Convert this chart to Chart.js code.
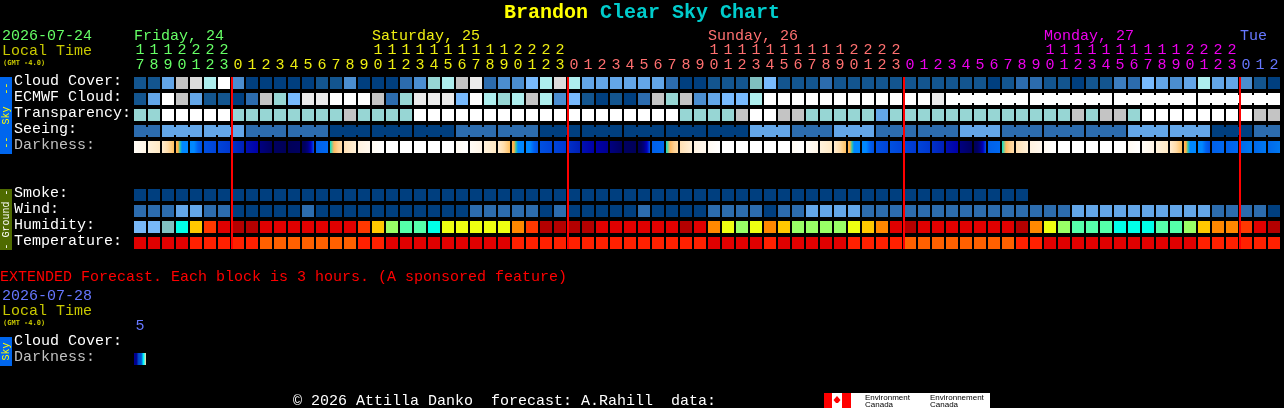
<!DOCTYPE html>
<html><head><meta charset="utf-8">
<script src="https://cdn.jsdelivr.net/npm/chart.js@4/dist/chart.umd.min.js"></script>
<style>html,body{margin:0;padding:0;background:#000;overflow:hidden}canvas{display:block}</style>
</head><body><canvas id="c" width="1284" height="408"></canvas>
<script>
const hourTens = ["1","1","1","2","2","2","2","","","","","","","","","","","1","1","1","1","1","1","1","1","1","1","2","2","2","2","","","","","","","","","","","1","1","1","1","1","1","1","1","1","1","2","2","2","2","","","","","","","","","","","1","1","1","1","1","1","1","1","1","1","2","2","2","2","","",""];
const hourUnits = ["7","8","9","0","1","2","3","0","1","2","3","4","5","6","7","8","9","0","1","2","3","4","5","6","7","8","9","0","1","2","3","0","1","2","3","4","5","6","7","8","9","0","1","2","3","4","5","6","7","8","9","0","1","2","3","0","1","2","3","4","5","6","7","8","9","0","1","2","3","4","5","6","7","8","9","0","1","2","3","0","1","2"];
const dayStartColumns = [7,31,55,79];
const hourColors = ["#66ff66","#eeee11","#ff7070","#ee00ee","#6677ff"];
const rowLabels = ["Cloud Cover:","ECMWF Cloud:","Transparency:","Seeing:","Darkness:","Smoke:","Wind:","Humidity:","Temperature:","Cloud Cover:","Darkness:"];
const rowPositions = [0,1,2,3,4,7,8,9,10,16.25,17.25];
const rowLabelColors = ["#fff","#fff","#fff","#fff","#c0c0c0","#fff","#fff","#fff","#fff","#fff","#c0c0c0"];

const skyPalette = ["#003f7f","#13558f","#2c6cae","#4b8ed0","#63a6e8","#78bafd","#97d6d4","#aeeeee","#c4c4c4","#dcdcdc","#ebebeb","#ffffff","#7fbfbf","#3c7dbf"];
const cloudCover = [1,1,4,8,9,7,11,3,0,0,0,0,0,1,1,3,0,0,0,2,3,6,7,8,10,2,3,3,5,7,9,7,4,4,4,4,4,4,2,0,0,1,1,1,12,5,1,1,1,2,1,1,1,1,1,1,1,1,1,1,1,0,1,2,2,1,1,0,1,1,13,2,5,4,3,4,7,4,4,3,1,0];
const ecmwfCloud = [1,4,11,8,4,1,1,0,2,8,6,5,10,10,11,11,11,8,2,6,10,10,10,5,11,7,6,7,8,7,3,5,1,0,1,0,2,8,6,8,3,4,5,5,7,11,11,11,11,11,11,11,11,11,11,11,11,10,11,11,11,11,11,11,11,11,11,11,11,11,11,11,11,11,11,11,11,11,11,11,11,11];
const transparency = [6,6,11,11,11,11,11,6,6,6,6,6,6,6,6,8,6,6,6,6,11,11,11,11,11,11,11,11,11,11,11,11,11,11,11,11,11,11,11,6,6,6,6,8,11,11,8,8,6,6,6,6,6,4,6,6,6,6,6,6,6,6,6,6,6,6,6,8,6,8,8,6,11,11,11,11,11,11,11,11,8,8];
const seeing = [2,2,4,4,4,4,4,4,2,2,2,2,2,2,0,0,0,0,0,0,0,0,0,2,2,2,2,2,2,0,0,0,0,0,0,0,0,0,0,0,0,0,0,0,4,4,4,2,2,2,4,4,4,2,2,2,2,2,2,4,4,4,2,2,2,2,2,2,2,2,2,4,4,4,4,4,4,0,0,0,2,2];
const seeingBlockStarts = [2,5,8,11,14,17,20,23,26,29,32,35,38,41,44,47,50,53,56,59,62,65,68,71,74,77,80];
const ecmwfBlockStarts = [64,70,76];
const ecmwfBlockFirstColumn = 58;
const smoke = [0,0,0,0,0,0,0,0,0,0,0,0,0,0,0,0,0,0,0,0,0,0,0,0,0,0,0,0,0,0,0,0,0,0,0,0,0,0,0,0,0,0,0,0,0,0,0,0,0,0,0,0,0,0,0,0,0,0,0,0,0,0,0,0];
const wind = [2,2,2,4,4,2,2,0,0,0,0,0,2,0,0,0,0,0,0,0,0,0,0,0,2,2,2,2,2,0,2,0,0,0,0,0,2,0,0,0,0,2,2,2,2,0,2,2,4,4,4,4,2,2,2,2,2,2,2,2,2,2,2,2,2,2,2,4,4,4,4,4,4,4,4,4,4,2,2,2,2,0];

const humidityPalette = ["#78b8f8","#80c0c0","#00ffe8","#55ffaa","#99ff66","#eeff11","#ffc800","#ff8800","#ff3800","#e00000","#b40000"];
const humidity = [0,0,1,2,6,8,9,10,10,9,9,9,9,9,9,9,8,6,4,3,3,2,5,5,5,5,5,7,8,10,10,10,10,9,9,9,9,9,9,10,9,7,5,4,5,7,6,4,4,4,4,5,6,7,9,10,9,9,9,9,9,9,9,10,7,5,4,3,3,3,2,2,2,3,3,4,6,7,7,8,9,10];
const temperaturePalette = ["#e00000","#ff2000","#ff6000"];
const temperature = [0,0,0,0,1,1,1,1,1,2,2,2,2,2,2,2,1,1,0,0,0,0,0,0,0,0,0,1,1,1,1,1,1,1,1,1,1,1,1,1,1,0,0,0,0,1,0,0,0,0,0,1,1,1,1,2,2,2,2,2,2,2,2,1,1,0,0,0,0,0,0,0,0,0,0,0,1,1,1,1,1,1];

const W=["#ffffff"],E1=["#fffcf6","#fff5e6"],E2=["#fff2dc","#ffe9c4"],E3=["#ffecd0","#ffdca8","#ffc060"],
 S=["#ffb85c","#ffb040","#30c8a8","#0088ff","#0088ff","#0088ff","#0088ff"],B1=["#0088ff","#0088ff","#0060f0","#0050e0"],
 B2=["#0050e0","#0044d8"],B3=["#0044d8","#0038d0"],B4=["#0030c8","#0020b8"],B5=["#0010b0","#0000a8"],B5b=["#0000a8","#000090"],
 K1=["#000080","#000060"],K2=["#000060","#000058"],K3=["#000058","#000060"],K4=["#000058","#000060","#000080","#0000c0","#0050e8"],
 B6=["#0060e8","#0068f0"],B7=["#0068ea","#0078f0"],D=["#00e0c8","#ffb860","#ffd090","#ffdca8"],M1=["#ffe0b4","#fff0d8"],M2=["#fff2e0","#fff8ee"],M3=["#fffaf2","#ffffff"];
const darkness = [E1,E2,E3,S,B1,B2,B3,B4,B5,K1,K2,K3,K4,B6,D,M1,M2,M3,W,W,W,W,W,M3,
 E1,E2,E3,S,B1,B2,B3,B4,B5,B5b,K1,K2,K4,B6,D,M1,M2,M3,W,W,W,W,W,M3,
 E1,E2,E3,S,B1,B2,B2,B3,B3,B4,B5,K1,K4,B6,D,M1,M2,M3,W,W,W,W,W,M3,
 E1,E2,E3,S,B1,B6,B6,B7,B7,B7];
const extendedDarkness = [["#000090","#000090","#0050d0","#0050d0","#00ffff","#ffd9a0"]];

const CELL=12, PITCH=14, ROW=16;
const half=(CELL/ROW)/2;
const columns=hourUnits.map((_,i)=>i);
const rowData=(n,row)=>Array.from({length:n},(_,i)=>({x:i,y:[row-half,row+half]}));
const barBase={type:'bar',grouped:false,borderWidth:0,inflateAmount:0,barThickness:CELL,clip:false};
const levelRow=(name,list,palette,row)=>({...barBase,label:name,data:rowData(list.length,row),backgroundColor:list.map(v=>palette[v])});
const gradientRow=(name,stops,row)=>({...barBase,label:name,data:rowData(stops.length,row),
  backgroundColor(c){
    const st=stops[c.dataIndex]; if(!st) return '#000';
    if(st.length===1) return st[0];
    const s=c.chart.scales.x; if(!s) return st[0];
    const px=s.getPixelForValue(c.dataIndex);
    if(!Number.isFinite(px)) return st[0];
    const g=c.chart.ctx.createLinearGradient(px-CELL/2,0,px+CELL/2,0);
    st.forEach((col,i)=>g.addColorStop(i/(st.length-1),col));
    return g;
  }});
const neckRow=(name,list,palette,row,isStart,first=0)=>{
  const data=[],colors=[];
  for(let i=first;i<list.length-1;i++){ if(!isStart(i+1)){ data.push({x:i+0.5,y:[row-0.25,row+0.25]}); colors.push(palette[list[i]]);} }
  return {...barBase,label:name,data,backgroundColor:colors,barThickness:4};
};
const boundaryOffset=(CELL/2)/PITCH; // column left edge relative to its centre

const textPlugin={id:'decor',
  beforeDraw(ch){const c=ch.ctx;c.save();c.fillStyle='#000';c.fillRect(0,0,ch.width,ch.height);
    const bar=(y0,y1,col)=>{c.fillStyle=col;c.fillRect(0,y0,12,y1-y0);};
    bar(77,154,'#0066ee');bar(189,250,'#4f6b00');bar(337,366,'#0066ee');c.restore();},
  afterDraw(ch){const c=ch.ctx;c.save();c.textBaseline='alphabetic';
    const t=(s,x,y,col,f='15px "Liberation Mono"')=>{c.font=f;c.fillStyle=col;c.fillText(s,x,y);};
    const bold='bold 20px "Liberation Mono"';
    t('Brandon',504,18,'#ffff00',bold);
    t('Clear Sky Chart',600,18,'#00cccc',bold);
    t('2026-07-24',2,40,'#66ff66');
    t('Local Time',2,55,'#c8c800');
    t('(GMT -4.0)',3,65,'#c8c800','bold 7px "DejaVu Sans Mono"');
    t('Friday, 24',134,40,hourColors[0]);
    t('Saturday, 25',372,40,hourColors[1]);
    t('Sunday, 26',708,40,hourColors[2]);
    t('Monday, 27',1044,40,hourColors[3]);
    t('Tue',1240,40,hourColors[4]);
    t('EXTENDED Forecast. Each block is 3 hours. (A sponsored feature)',0,281,'#ff0000');
    t('2026-07-28',2,300,hourColors[4]);
    t('Local Time',2,315,'#c8c800');
    t('(GMT -4.0)',3,325,'#c8c800','bold 7px "DejaVu Sans Mono"');
    t('5',135.5,330,hourColors[4]);
    t('\u00a9 2026 Attilla Danko  forecast: A.Rahill  data:',293,405,'#ffffff');
    const v=(s,cy,col)=>{c.save();c.translate(6,cy);c.rotate(-Math.PI/2);c.font='10px "Liberation Mono"';c.fillStyle=col;c.textAlign='center';c.textBaseline='middle';c.fillText(s,0,0);c.restore();};
    v('--  Sky  --',115.5,'#ffff00');v('- Ground -',219.5,'#ffffff');v('Sky',351.5,'#ffff00');
    // Environment Canada signature
    c.fillStyle='#fff';c.fillRect(824,393,166,15);
    c.fillStyle='#ff0000';c.fillRect(824,393,8,15);c.fillRect(842,393,9,15);
    c.beginPath();c.moveTo(837,396);c.lineTo(840.5,400);c.lineTo(838,403);c.lineTo(836,403);c.lineTo(833.5,400);c.closePath();c.fill();
    const sm='8px "Liberation Sans"';
    t('Environment',865,400,'#000',sm);t('Canada',865,407,'#000',sm);
    t('Environnement',930,400,'#000',sm);t('Canada',930,407,'#000',sm);
    c.restore();}
};

new Chart(document.getElementById('c'),{
  type:'bar',
  data:{datasets:[
    {...barBase,label:'Day boundary',order:-1,barThickness:2,backgroundColor:'#ff0000',
      data:dayStartColumns.map(d=>({x:d-boundaryOffset,y:[-half,10+half]}))},
    levelRow('Cloud Cover',cloudCover,skyPalette,0),
    levelRow('ECMWF Cloud',ecmwfCloud,skyPalette,1),
    neckRow('ECMWF blocks',ecmwfCloud,skyPalette,1,i=>ecmwfBlockStarts.includes(i),ecmwfBlockFirstColumn),
    levelRow('Transparency',transparency,skyPalette,2),
    levelRow('Seeing',seeing,skyPalette,3),
    neckRow('Seeing blocks',seeing,skyPalette,3,i=>seeingBlockStarts.includes(i)),
    gradientRow('Darkness',darkness,4),
    levelRow('Smoke',smoke,skyPalette,7),
    levelRow('Wind',wind,skyPalette,8),
    levelRow('Humidity',humidity,humidityPalette,9),
    levelRow('Temperature',temperature,temperaturePalette,10),
    gradientRow('Extended Darkness',extendedDarkness,17.25)
  ]},
  plugins:[textPlugin],
  options:{
    responsive:false,animation:false,devicePixelRatio:1,
    layout:{autoPadding:false,padding:{left:14,top:0,right:0,bottom:0}},
    plugins:{legend:{display:false},title:{display:false},tooltip:{enabled:false}},
    scales:{
      x:{type:'linear',offset:false,position:'top',min:-6/14,max:1144/14,
        grid:{display:false},border:{display:false},
        afterBuildTicks:s=>{s.ticks=columns.map(v=>({value:v}));},
        afterFit:s=>{s.height=73;},
        ticks:{autoSkip:false,maxRotation:0,minRotation:0,padding:-8,
          font:{family:'"Liberation Mono"',size:15,lineHeight:1},
          callback:(v,i)=>[hourTens[i],hourUnits[i]],
          color:c=>hourColors[dayStartColumns.filter(d=>d<=c.index).length]}},
      y:{type:'linear',position:'left',reverse:true,min:-0.625,max:19.75,
        grid:{display:false},border:{display:false},
        afterBuildTicks:s=>{s.ticks=rowPositions.map(v=>({value:v}));},
        afterFit:s=>{s.width=120;},
        ticks:{autoSkip:false,crossAlign:'far',padding:0,labelOffset:-1.5,
          font:{family:'"Liberation Mono"',size:15},
          callback:(v,i)=>rowLabels[i],
          color:c=>rowLabelColors[c.index]}}
    }
  }
});
</script></body></html>
